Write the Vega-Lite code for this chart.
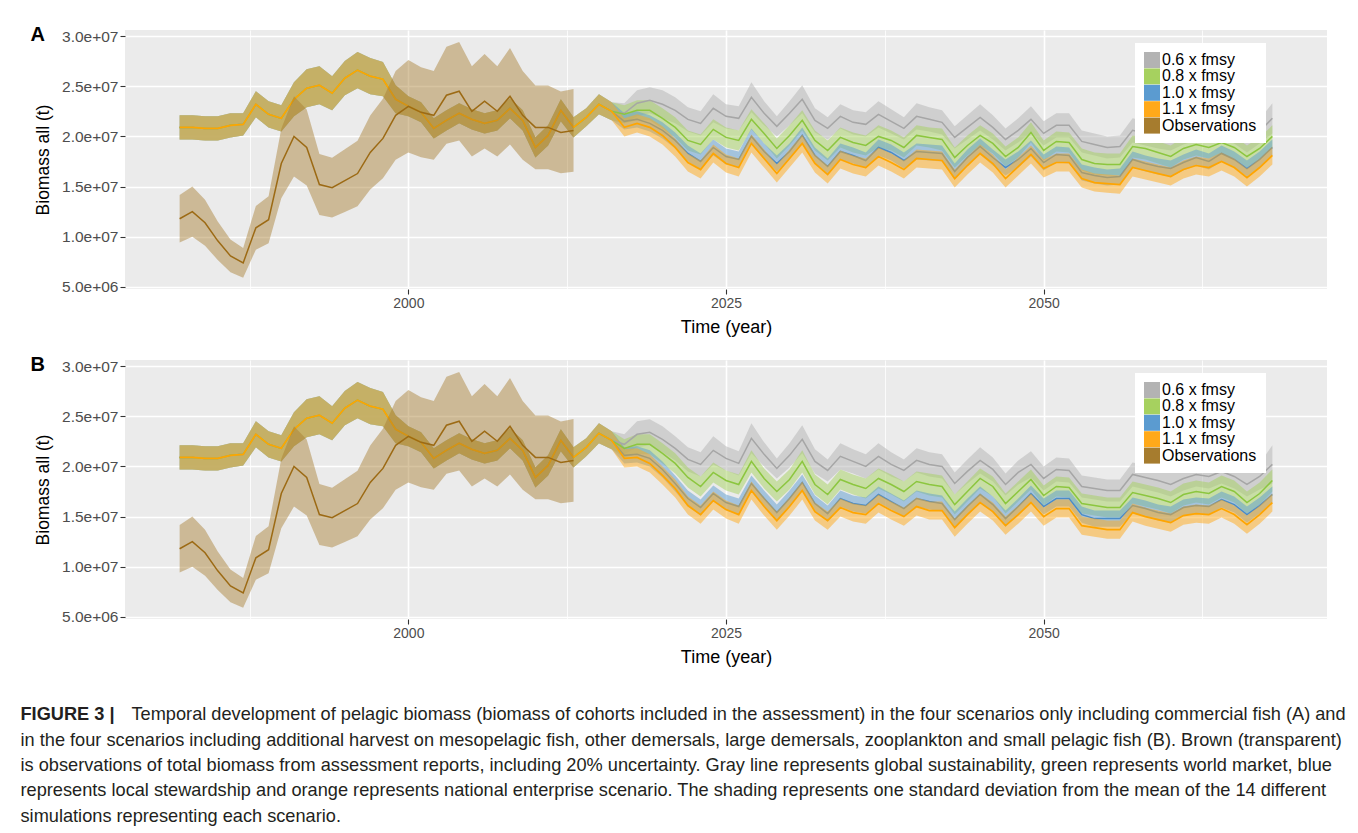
{
"$schema":"https://vega.github.io/schema/vega-lite/v6.json",
"background":"white",
"padding":{"left":20,"top":25,"right":5,"bottom":5},
"bounds":"flush",
"spacing":71,
"resolve":{"scale":{"color":"independent"},"legend":{"color":"independent"}},
"config":{
 "view":{"fill":"#EBEBEB","stroke":null},
 "font":"Liberation Sans",
 "axis":{"labelFont":"Liberation Sans","labelFontSize":15.5,"labelColor":"#4D4D4D","tickColor":"#333333","tickSize":5,"tickWidth":1.1,"domain":false,"gridColor":"#FFFFFF","titleFont":"Liberation Sans","titleFontWeight":"normal","titleColor":"#000000","labelPadding":2},
 "axisX":{"titleFontSize":18,"titlePadding":8,"labelFontSize":14},
 "axisY":{"titleFontSize":17.5,"titlePadding":9}
},
"datasets":{
"model":[
{"p":"A","t":1982,"g":2.09e7,"n":2.09e7,"b":2.09e7,"o":2.09e7,"gs":1.2e6,"ns":1.2e6,"bs":1.2e6,"os":1.2e6},
{"p":"A","t":1983,"g":2.09e7,"n":2.09e7,"b":2.09e7,"o":2.09e7,"gs":1.2e6,"ns":1.2e6,"bs":1.2e6,"os":1.2e6},
{"p":"A","t":1984,"g":2.08e7,"n":2.08e7,"b":2.08e7,"o":2.08e7,"gs":1.2e6,"ns":1.2e6,"bs":1.2e6,"os":1.2e6},
{"p":"A","t":1985,"g":2.08e7,"n":2.08e7,"b":2.08e7,"o":2.08e7,"gs":1.2e6,"ns":1.2e6,"bs":1.2e6,"os":1.2e6},
{"p":"A","t":1986,"g":2.11e7,"n":2.11e7,"b":2.11e7,"o":2.11e7,"gs":1.2e6,"ns":1.2e6,"bs":1.2e6,"os":1.2e6},
{"p":"A","t":1987,"g":2.12e7,"n":2.12e7,"b":2.12e7,"o":2.12e7,"gs":1.1e6,"ns":1.1e6,"bs":1.1e6,"os":1.1e6},
{"p":"A","t":1988,"g":2.32e7,"n":2.32e7,"b":2.32e7,"o":2.32e7,"gs":1.3e6,"ns":1.3e6,"bs":1.3e6,"os":1.3e6},
{"p":"A","t":1989,"g":2.22e7,"n":2.22e7,"b":2.22e7,"o":2.22e7,"gs":1.3e6,"ns":1.3e6,"bs":1.3e6,"os":1.3e6},
{"p":"A","t":1990,"g":2.18e7,"n":2.18e7,"b":2.18e7,"o":2.18e7,"gs":1.3e6,"ns":1.3e6,"bs":1.3e6,"os":1.3e6},
{"p":"A","t":1991,"g":2.37e7,"n":2.37e7,"b":2.37e7,"o":2.37e7,"gs":1.7e6,"ns":1.7e6,"bs":1.7e6,"os":1.7e6},
{"p":"A","t":1992,"g":2.48e7,"n":2.48e7,"b":2.48e7,"o":2.48e7,"gs":1.9e6,"ns":1.9e6,"bs":1.9e6,"os":1.9e6},
{"p":"A","t":1993,"g":2.51e7,"n":2.51e7,"b":2.51e7,"o":2.51e7,"gs":1.9e6,"ns":1.9e6,"bs":1.9e6,"os":1.9e6},
{"p":"A","t":1994,"g":2.43e7,"n":2.43e7,"b":2.43e7,"o":2.43e7,"gs":1.7e6,"ns":1.7e6,"bs":1.7e6,"os":1.7e6},
{"p":"A","t":1995,"g":2.58e7,"n":2.58e7,"b":2.58e7,"o":2.58e7,"gs":1.7e6,"ns":1.7e6,"bs":1.7e6,"os":1.7e6},
{"p":"A","t":1996,"g":2.66e7,"n":2.66e7,"b":2.66e7,"o":2.66e7,"gs":1.8e6,"ns":1.8e6,"bs":1.8e6,"os":1.8e6},
{"p":"A","t":1997,"g":2.60e7,"n":2.60e7,"b":2.60e7,"o":2.60e7,"gs":1.8e6,"ns":1.8e6,"bs":1.8e6,"os":1.8e6},
{"p":"A","t":1998,"g":2.57e7,"n":2.57e7,"b":2.57e7,"o":2.57e7,"gs":1.7e6,"ns":1.7e6,"bs":1.7e6,"os":1.7e6},
{"p":"A","t":1999,"g":2.37e7,"n":2.37e7,"b":2.37e7,"o":2.37e7,"gs":1.4e6,"ns":1.4e6,"bs":1.4e6,"os":1.4e6},
{"p":"A","t":2000,"g":2.30e7,"n":2.30e7,"b":2.30e7,"o":2.30e7,"gs":1.0e6,"ns":1.0e6,"bs":1.0e6,"os":1.0e6},
{"p":"A","t":2001,"g":2.24e7,"n":2.24e7,"b":2.24e7,"o":2.24e7,"gs":1.0e6,"ns":1.0e6,"bs":1.0e6,"os":1.0e6},
{"p":"A","t":2002,"g":2.08e7,"n":2.08e7,"b":2.08e7,"o":2.08e7,"gs":1.0e6,"ns":1.0e6,"bs":1.0e6,"os":1.0e6},
{"p":"A","t":2003,"g":2.16e7,"n":2.16e7,"b":2.16e7,"o":2.16e7,"gs":1.0e6,"ns":1.0e6,"bs":1.0e6,"os":1.0e6},
{"p":"A","t":2004,"g":2.23e7,"n":2.23e7,"b":2.23e7,"o":2.23e7,"gs":1.0e6,"ns":1.0e6,"bs":1.0e6,"os":1.0e6},
{"p":"A","t":2005,"g":2.17e7,"n":2.17e7,"b":2.17e7,"o":2.17e7,"gs":1.0e6,"ns":1.0e6,"bs":1.0e6,"os":1.0e6},
{"p":"A","t":2006,"g":2.13e7,"n":2.13e7,"b":2.13e7,"o":2.13e7,"gs":1.0e6,"ns":1.0e6,"bs":1.0e6,"os":1.0e6},
{"p":"A","t":2007,"g":2.16e7,"n":2.16e7,"b":2.16e7,"o":2.16e7,"gs":1.0e6,"ns":1.0e6,"bs":1.0e6,"os":1.0e6},
{"p":"A","t":2008,"g":2.28e7,"n":2.28e7,"b":2.28e7,"o":2.28e7,"gs":1.0e6,"ns":1.0e6,"bs":1.0e6,"os":1.0e6},
{"p":"A","t":2009,"g":2.16e7,"n":2.16e7,"b":2.16e7,"o":2.16e7,"gs":1.0e6,"ns":1.0e6,"bs":1.0e6,"os":1.0e6},
{"p":"A","t":2010,"g":1.89e7,"n":1.89e7,"b":1.89e7,"o":1.89e7,"gs":1.0e6,"ns":1.0e6,"bs":1.0e6,"os":1.0e6},
{"p":"A","t":2011,"g":2.01e7,"n":2.01e7,"b":2.01e7,"o":2.01e7,"gs":1.0e6,"ns":1.0e6,"bs":1.0e6,"os":1.0e6},
{"p":"A","t":2012,"g":2.26e7,"n":2.26e7,"b":2.26e7,"o":2.26e7,"gs":1.1e6,"ns":1.1e6,"bs":1.1e6,"os":1.1e6},
{"p":"A","t":2013,"g":2.09e7,"n":2.09e7,"b":2.09e7,"o":2.09e7,"gs":1.0e6,"ns":1.0e6,"bs":1.0e6,"os":1.0e6},
{"p":"A","t":2014,"g":2.19e7,"n":2.19e7,"b":2.19e7,"o":2.19e7,"gs":9e5,"ns":9e5,"bs":9e5,"os":9e5},
{"p":"A","t":2015,"g":2.32e7,"n":2.32e7,"b":2.32e7,"o":2.32e7,"gs":1.0e6,"ns":1.0e6,"bs":1.0e6,"os":1.0e6},
{"p":"A","t":2016,"g":2.25e7,"n":2.25e7,"b":2.25e7,"o":2.25e7,"gs":9e5,"ns":9e5,"bs":9e5,"os":9e5},
{"p":"A","t":2017,"g":2.23e7,"n":2.22e7,"b":2.15e7,"o":2.09e7,"gs":1.0e6,"ns":9e5,"bs":8e5,"os":9e5},
{"p":"A","t":2018,"g":2.33e7,"n":2.26e7,"b":2.17e7,"o":2.13e7,"gs":1.3e6,"ns":1.0e6,"bs":8e5,"os":9e5},
{"p":"A","t":2019,"g":2.36e7,"n":2.26e7,"b":2.13e7,"o":2.09e7,"gs":1.3e6,"ns":1.0e6,"bs":8e5,"os":9e5},
{"p":"A","t":2020,"g":2.32e7,"n":2.18e7,"b":2.06e7,"o":2.01e7,"gs":1.4e6,"ns":1.0e6,"bs":8e5,"os":9e5},
{"p":"A","t":2021,"g":2.26e7,"n":2.09e7,"b":1.96e7,"o":1.89e7,"gs":1.3e6,"ns":1.0e6,"bs":8e5,"os":9e5},
{"p":"A","t":2022,"g":2.17e7,"n":1.96e7,"b":1.83e7,"o":1.74e7,"gs":1.2e6,"ns":1.0e6,"bs":8e5,"os":9e5},
{"p":"A","t":2023,"g":2.13e7,"n":1.92e7,"b":1.75e7,"o":1.67e7,"gs":1.2e6,"ns":1.0e6,"bs":8e5,"os":9e5},
{"p":"A","t":2024,"g":2.28e7,"n":2.07e7,"b":1.89e7,"o":1.83e7,"gs":1.4e6,"ns":1.0e6,"bs":8e5,"os":9e5},
{"p":"A","t":2025,"g":2.20e7,"n":1.99e7,"b":1.80e7,"o":1.73e7,"gs":1.2e6,"ns":1.0e6,"bs":8e5,"os":9e5},
{"p":"A","t":2026,"g":2.18e7,"n":1.96e7,"b":1.77e7,"o":1.69e7,"gs":1.2e6,"ns":1.0e6,"bs":8e5,"os":9e5},
{"p":"A","t":2027,"g":2.39e7,"n":2.17e7,"b":2.00e7,"o":1.93e7,"gs":1.5e6,"ns":1.0e6,"bs":8e5,"os":9e5},
{"p":"A","t":2028,"g":2.23e7,"n":2.03e7,"b":1.85e7,"o":1.78e7,"gs":1.2e6,"ns":1.0e6,"bs":8e5,"os":9e5},
{"p":"A","t":2029,"g":2.10e7,"n":1.88e7,"b":1.73e7,"o":1.63e7,"gs":1.0e6,"ns":1.0e6,"bs":8e5,"os":9e5},
{"p":"A","t":2030,"g":2.23e7,"n":2.01e7,"b":1.85e7,"o":1.78e7,"gs":1.2e6,"ns":1.0e6,"bs":8e5,"os":9e5},
{"p":"A","t":2031,"g":2.37e7,"n":2.16e7,"b":2.01e7,"o":1.93e7,"gs":1.4e6,"ns":1.0e6,"bs":8e5,"os":9e5},
{"p":"A","t":2032,"g":2.16e7,"n":1.96e7,"b":1.81e7,"o":1.73e7,"gs":1.2e6,"ns":1.0e6,"bs":8e5,"os":9e5},
{"p":"A","t":2033,"g":2.08e7,"n":1.86e7,"b":1.70e7,"o":1.62e7,"gs":1.1e6,"ns":1.0e6,"bs":8e5,"os":9e5},
{"p":"A","t":2034,"g":2.20e7,"n":1.99e7,"b":1.85e7,"o":1.77e7,"gs":1.2e6,"ns":1.0e6,"bs":8e5,"os":9e5},
{"p":"A","t":2035,"g":2.14e7,"n":1.94e7,"b":1.81e7,"o":1.72e7,"gs":1.2e6,"ns":1.0e6,"bs":8e5,"os":9e5},
{"p":"A","t":2036,"g":2.12e7,"n":1.91e7,"b":1.76e7,"o":1.69e7,"gs":1.2e6,"ns":1.0e6,"bs":8e5,"os":9e5},
{"p":"A","t":2037,"g":2.22e7,"n":2.00e7,"b":1.89e7,"o":1.80e7,"gs":1.3e6,"ns":1.1e6,"bs":8e5,"os":9e5},
{"p":"A","t":2038,"g":2.15e7,"n":1.96e7,"b":1.84e7,"o":1.74e7,"gs":1.2e6,"ns":1.0e6,"bs":8e5,"os":9e5},
{"p":"A","t":2039,"g":2.08e7,"n":1.89e7,"b":1.76e7,"o":1.67e7,"gs":1.1e6,"ns":1.0e6,"bs":8e5,"os":9e5},
{"p":"A","t":2040,"g":2.20e7,"n":2.01e7,"b":1.85e7,"o":1.78e7,"gs":1.3e6,"ns":1.0e6,"bs":8e5,"os":9e5},
{"p":"A","t":2041,"g":2.17e7,"n":1.99e7,"b":1.84e7,"o":1.77e7,"gs":1.2e6,"ns":1.0e6,"bs":8e5,"os":9e5},
{"p":"A","t":2042,"g":2.14e7,"n":1.97e7,"b":1.83e7,"o":1.76e7,"gs":1.2e6,"ns":1.1e6,"bs":8e5,"os":9e5},
{"p":"A","t":2043,"g":1.99e7,"n":1.79e7,"b":1.65e7,"o":1.58e7,"gs":1.1e6,"ns":1.0e6,"bs":8e5,"os":9e5},
{"p":"A","t":2044,"g":2.09e7,"n":1.91e7,"b":1.79e7,"o":1.71e7,"gs":1.2e6,"ns":1.0e6,"bs":8e5,"os":9e5},
{"p":"A","t":2045,"g":2.19e7,"n":2.01e7,"b":1.90e7,"o":1.83e7,"gs":1.3e6,"ns":1.0e6,"bs":8e5,"os":9e5},
{"p":"A","t":2046,"g":2.09e7,"n":1.93e7,"b":1.79e7,"o":1.73e7,"gs":1.2e6,"ns":1.0e6,"bs":8e5,"os":9e5},
{"p":"A","t":2047,"g":1.97e7,"n":1.80e7,"b":1.69e7,"o":1.58e7,"gs":1.1e6,"ns":1.0e6,"bs":8e5,"os":9e5},
{"p":"A","t":2048,"g":2.06e7,"n":1.89e7,"b":1.77e7,"o":1.70e7,"gs":1.2e6,"ns":1.0e6,"bs":8e5,"os":9e5},
{"p":"A","t":2049,"g":2.17e7,"n":2.04e7,"b":1.88e7,"o":1.82e7,"gs":1.3e6,"ns":1.0e6,"bs":8e5,"os":9e5},
{"p":"A","t":2050,"g":2.03e7,"n":1.86e7,"b":1.74e7,"o":1.68e7,"gs":1.2e6,"ns":1.0e6,"bs":8e5,"os":9e5},
{"p":"A","t":2051,"g":2.11e7,"n":1.95e7,"b":1.82e7,"o":1.74e7,"gs":1.2e6,"ns":1.0e6,"bs":8e5,"os":9e5},
{"p":"A","t":2052,"g":2.11e7,"n":1.94e7,"b":1.81e7,"o":1.74e7,"gs":1.2e6,"ns":1.0e6,"bs":8e5,"os":9e5},
{"p":"A","t":2053,"g":1.95e7,"n":1.77e7,"b":1.64e7,"o":1.58e7,"gs":1.1e6,"ns":1.1e6,"bs":8e5,"os":9e5},
{"p":"A","t":2054,"g":1.92e7,"n":1.73e7,"b":1.61e7,"o":1.54e7,"gs":1.1e6,"ns":1.1e6,"bs":8e5,"os":9e5},
{"p":"A","t":2055,"g":1.89e7,"n":1.72e7,"b":1.59e7,"o":1.53e7,"gs":1.1e6,"ns":1.1e6,"bs":8e5,"os":9e5},
{"p":"A","t":2056,"g":1.90e7,"n":1.72e7,"b":1.60e7,"o":1.52e7,"gs":1.1e6,"ns":1.1e6,"bs":8e5,"os":9e5},
{"p":"A","t":2057,"g":2.06e7,"n":1.90e7,"b":1.77e7,"o":1.69e7,"gs":1.2e6,"ns":1.1e6,"bs":8e5,"os":9e5},
{"p":"A","t":2058,"g":2.03e7,"n":1.88e7,"b":1.73e7,"o":1.66e7,"gs":1.2e6,"ns":1.1e6,"bs":8e5,"os":9e5},
{"p":"A","t":2059,"g":2.00e7,"n":1.84e7,"b":1.70e7,"o":1.63e7,"gs":1.2e6,"ns":1.1e6,"bs":8e5,"os":9e5},
{"p":"A","t":2060,"g":1.98e7,"n":1.80e7,"b":1.68e7,"o":1.60e7,"gs":1.2e6,"ns":1.1e6,"bs":8e5,"os":9e5},
{"p":"A","t":2061,"g":2.04e7,"n":1.88e7,"b":1.74e7,"o":1.67e7,"gs":1.2e6,"ns":1.1e6,"bs":8e5,"os":9e5},
{"p":"A","t":2062,"g":2.08e7,"n":1.92e7,"b":1.79e7,"o":1.71e7,"gs":1.2e6,"ns":1.1e6,"bs":8e5,"os":9e5},
{"p":"A","t":2063,"g":2.06e7,"n":1.89e7,"b":1.75e7,"o":1.69e7,"gs":1.2e6,"ns":1.1e6,"bs":8e5,"os":9e5},
{"p":"A","t":2064,"g":2.10e7,"n":1.94e7,"b":1.83e7,"o":1.75e7,"gs":1.2e6,"ns":1.1e6,"bs":8e5,"os":9e5},
{"p":"A","t":2065,"g":2.05e7,"n":1.89e7,"b":1.77e7,"o":1.69e7,"gs":1.2e6,"ns":1.1e6,"bs":8e5,"os":9e5},
{"p":"A","t":2066,"g":1.96e7,"n":1.80e7,"b":1.68e7,"o":1.59e7,"gs":1.2e6,"ns":1.1e6,"bs":8e5,"os":9e5},
{"p":"A","t":2067,"g":2.05e7,"n":1.88e7,"b":1.77e7,"o":1.69e7,"gs":1.2e6,"ns":1.1e6,"bs":8e5,"os":9e5},
{"p":"A","t":2068,"g":2.18e7,"n":2.00e7,"b":1.89e7,"o":1.81e7,"gs":1.5e6,"ns":1.1e6,"bs":8e5,"os":9e5},
{"p":"B","t":1982,"g":2.09e7,"n":2.09e7,"b":2.09e7,"o":2.09e7,"gs":1.2e6,"ns":1.2e6,"bs":1.2e6,"os":1.2e6},
{"p":"B","t":1983,"g":2.09e7,"n":2.09e7,"b":2.09e7,"o":2.09e7,"gs":1.2e6,"ns":1.2e6,"bs":1.2e6,"os":1.2e6},
{"p":"B","t":1984,"g":2.08e7,"n":2.08e7,"b":2.08e7,"o":2.08e7,"gs":1.2e6,"ns":1.2e6,"bs":1.2e6,"os":1.2e6},
{"p":"B","t":1985,"g":2.08e7,"n":2.08e7,"b":2.08e7,"o":2.08e7,"gs":1.2e6,"ns":1.2e6,"bs":1.2e6,"os":1.2e6},
{"p":"B","t":1986,"g":2.11e7,"n":2.11e7,"b":2.11e7,"o":2.11e7,"gs":1.2e6,"ns":1.2e6,"bs":1.2e6,"os":1.2e6},
{"p":"B","t":1987,"g":2.12e7,"n":2.12e7,"b":2.12e7,"o":2.12e7,"gs":1.1e6,"ns":1.1e6,"bs":1.1e6,"os":1.1e6},
{"p":"B","t":1988,"g":2.32e7,"n":2.32e7,"b":2.32e7,"o":2.32e7,"gs":1.3e6,"ns":1.3e6,"bs":1.3e6,"os":1.3e6},
{"p":"B","t":1989,"g":2.22e7,"n":2.22e7,"b":2.22e7,"o":2.22e7,"gs":1.3e6,"ns":1.3e6,"bs":1.3e6,"os":1.3e6},
{"p":"B","t":1990,"g":2.18e7,"n":2.18e7,"b":2.18e7,"o":2.18e7,"gs":1.3e6,"ns":1.3e6,"bs":1.3e6,"os":1.3e6},
{"p":"B","t":1991,"g":2.37e7,"n":2.37e7,"b":2.37e7,"o":2.37e7,"gs":1.7e6,"ns":1.7e6,"bs":1.7e6,"os":1.7e6},
{"p":"B","t":1992,"g":2.48e7,"n":2.48e7,"b":2.48e7,"o":2.48e7,"gs":1.9e6,"ns":1.9e6,"bs":1.9e6,"os":1.9e6},
{"p":"B","t":1993,"g":2.51e7,"n":2.51e7,"b":2.51e7,"o":2.51e7,"gs":1.9e6,"ns":1.9e6,"bs":1.9e6,"os":1.9e6},
{"p":"B","t":1994,"g":2.43e7,"n":2.43e7,"b":2.43e7,"o":2.43e7,"gs":1.7e6,"ns":1.7e6,"bs":1.7e6,"os":1.7e6},
{"p":"B","t":1995,"g":2.58e7,"n":2.58e7,"b":2.58e7,"o":2.58e7,"gs":1.7e6,"ns":1.7e6,"bs":1.7e6,"os":1.7e6},
{"p":"B","t":1996,"g":2.66e7,"n":2.66e7,"b":2.66e7,"o":2.66e7,"gs":1.8e6,"ns":1.8e6,"bs":1.8e6,"os":1.8e6},
{"p":"B","t":1997,"g":2.60e7,"n":2.60e7,"b":2.60e7,"o":2.60e7,"gs":1.8e6,"ns":1.8e6,"bs":1.8e6,"os":1.8e6},
{"p":"B","t":1998,"g":2.57e7,"n":2.57e7,"b":2.57e7,"o":2.57e7,"gs":1.7e6,"ns":1.7e6,"bs":1.7e6,"os":1.7e6},
{"p":"B","t":1999,"g":2.37e7,"n":2.37e7,"b":2.37e7,"o":2.37e7,"gs":1.4e6,"ns":1.4e6,"bs":1.4e6,"os":1.4e6},
{"p":"B","t":2000,"g":2.30e7,"n":2.30e7,"b":2.30e7,"o":2.30e7,"gs":1.0e6,"ns":1.0e6,"bs":1.0e6,"os":1.0e6},
{"p":"B","t":2001,"g":2.24e7,"n":2.24e7,"b":2.24e7,"o":2.24e7,"gs":1.0e6,"ns":1.0e6,"bs":1.0e6,"os":1.0e6},
{"p":"B","t":2002,"g":2.08e7,"n":2.08e7,"b":2.08e7,"o":2.08e7,"gs":1.0e6,"ns":1.0e6,"bs":1.0e6,"os":1.0e6},
{"p":"B","t":2003,"g":2.16e7,"n":2.16e7,"b":2.16e7,"o":2.16e7,"gs":1.0e6,"ns":1.0e6,"bs":1.0e6,"os":1.0e6},
{"p":"B","t":2004,"g":2.23e7,"n":2.23e7,"b":2.23e7,"o":2.23e7,"gs":1.0e6,"ns":1.0e6,"bs":1.0e6,"os":1.0e6},
{"p":"B","t":2005,"g":2.17e7,"n":2.17e7,"b":2.17e7,"o":2.17e7,"gs":1.0e6,"ns":1.0e6,"bs":1.0e6,"os":1.0e6},
{"p":"B","t":2006,"g":2.13e7,"n":2.13e7,"b":2.13e7,"o":2.13e7,"gs":1.0e6,"ns":1.0e6,"bs":1.0e6,"os":1.0e6},
{"p":"B","t":2007,"g":2.16e7,"n":2.16e7,"b":2.16e7,"o":2.16e7,"gs":1.0e6,"ns":1.0e6,"bs":1.0e6,"os":1.0e6},
{"p":"B","t":2008,"g":2.28e7,"n":2.28e7,"b":2.28e7,"o":2.28e7,"gs":1.0e6,"ns":1.0e6,"bs":1.0e6,"os":1.0e6},
{"p":"B","t":2009,"g":2.16e7,"n":2.16e7,"b":2.16e7,"o":2.16e7,"gs":1.0e6,"ns":1.0e6,"bs":1.0e6,"os":1.0e6},
{"p":"B","t":2010,"g":1.89e7,"n":1.89e7,"b":1.89e7,"o":1.89e7,"gs":1.0e6,"ns":1.0e6,"bs":1.0e6,"os":1.0e6},
{"p":"B","t":2011,"g":2.01e7,"n":2.01e7,"b":2.01e7,"o":2.01e7,"gs":1.0e6,"ns":1.0e6,"bs":1.0e6,"os":1.0e6},
{"p":"B","t":2012,"g":2.26e7,"n":2.26e7,"b":2.26e7,"o":2.26e7,"gs":1.1e6,"ns":1.1e6,"bs":1.1e6,"os":1.1e6},
{"p":"B","t":2013,"g":2.09e7,"n":2.09e7,"b":2.09e7,"o":2.09e7,"gs":1.0e6,"ns":1.0e6,"bs":1.0e6,"os":1.0e6},
{"p":"B","t":2014,"g":2.19e7,"n":2.19e7,"b":2.19e7,"o":2.19e7,"gs":9e5,"ns":9e5,"bs":9e5,"os":9e5},
{"p":"B","t":2015,"g":2.33e7,"n":2.33e7,"b":2.33e7,"o":2.33e7,"gs":1.0e6,"ns":1.0e6,"bs":1.0e6,"os":1.0e6},
{"p":"B","t":2016,"g":2.26e7,"n":2.26e7,"b":2.26e7,"o":2.26e7,"gs":9e5,"ns":9e5,"bs":9e5,"os":9e5},
{"p":"B","t":2017,"g":2.22e7,"n":2.18e7,"b":2.11e7,"o":2.08e7,"gs":1.0e6,"ns":9e5,"bs":8e5,"os":9e5},
{"p":"B","t":2018,"g":2.32e7,"n":2.22e7,"b":2.12e7,"o":2.09e7,"gs":1.3e6,"ns":1.0e6,"bs":8e5,"os":9e5},
{"p":"B","t":2019,"g":2.34e7,"n":2.22e7,"b":2.08e7,"o":2.03e7,"gs":1.3e6,"ns":1.0e6,"bs":8e5,"os":9e5},
{"p":"B","t":2020,"g":2.27e7,"n":2.13e7,"b":1.97e7,"o":1.91e7,"gs":1.3e6,"ns":1.0e6,"bs":8e5,"os":9e5},
{"p":"B","t":2021,"g":2.18e7,"n":2.03e7,"b":1.83e7,"o":1.78e7,"gs":1.2e6,"ns":1.0e6,"bs":8e5,"os":9e5},
{"p":"B","t":2022,"g":2.07e7,"n":1.89e7,"b":1.68e7,"o":1.61e7,"gs":1.2e6,"ns":1.0e6,"bs":8e5,"os":9e5},
{"p":"B","t":2023,"g":2.02e7,"n":1.80e7,"b":1.59e7,"o":1.52e7,"gs":1.2e6,"ns":1.0e6,"bs":8e5,"os":9e5},
{"p":"B","t":2024,"g":2.16e7,"n":1.94e7,"b":1.73e7,"o":1.66e7,"gs":1.4e6,"ns":1.0e6,"bs":8e5,"os":9e5},
{"p":"B","t":2025,"g":2.08e7,"n":1.86e7,"b":1.64e7,"o":1.57e7,"gs":1.2e6,"ns":1.0e6,"bs":8e5,"os":9e5},
{"p":"B","t":2026,"g":2.03e7,"n":1.82e7,"b":1.60e7,"o":1.52e7,"gs":1.2e6,"ns":1.0e6,"bs":8e5,"os":9e5},
{"p":"B","t":2027,"g":2.28e7,"n":2.05e7,"b":1.83e7,"o":1.76e7,"gs":1.5e6,"ns":1.1e6,"bs":8e5,"os":9e5},
{"p":"B","t":2028,"g":2.12e7,"n":1.88e7,"b":1.68e7,"o":1.60e7,"gs":1.2e6,"ns":1.0e6,"bs":8e5,"os":9e5},
{"p":"B","t":2029,"g":1.98e7,"n":1.75e7,"b":1.54e7,"o":1.46e7,"gs":1.0e6,"ns":1.0e6,"bs":8e5,"os":9e5},
{"p":"B","t":2030,"g":2.11e7,"n":1.87e7,"b":1.68e7,"o":1.60e7,"gs":1.2e6,"ns":1.0e6,"bs":8e5,"os":9e5},
{"p":"B","t":2031,"g":2.27e7,"n":2.05e7,"b":1.84e7,"o":1.76e7,"gs":1.4e6,"ns":1.1e6,"bs":8e5,"os":9e5},
{"p":"B","t":2032,"g":2.05e7,"n":1.82e7,"b":1.63e7,"o":1.55e7,"gs":1.2e6,"ns":1.0e6,"bs":8e5,"os":9e5},
{"p":"B","t":2033,"g":1.96e7,"n":1.72e7,"b":1.53e7,"o":1.46e7,"gs":1.1e6,"ns":1.0e6,"bs":8e5,"os":9e5},
{"p":"B","t":2034,"g":2.10e7,"n":1.87e7,"b":1.68e7,"o":1.59e7,"gs":1.3e6,"ns":1.0e6,"bs":8e5,"os":9e5},
{"p":"B","t":2035,"g":2.05e7,"n":1.82e7,"b":1.63e7,"o":1.54e7,"gs":1.2e6,"ns":1.0e6,"bs":8e5,"os":9e5},
{"p":"B","t":2036,"g":2.00e7,"n":1.78e7,"b":1.61e7,"o":1.52e7,"gs":1.2e6,"ns":1.0e6,"bs":8e5,"os":9e5},
{"p":"B","t":2037,"g":2.10e7,"n":1.88e7,"b":1.72e7,"o":1.63e7,"gs":1.3e6,"ns":1.0e6,"bs":8e5,"os":9e5},
{"p":"B","t":2038,"g":2.02e7,"n":1.82e7,"b":1.65e7,"o":1.56e7,"gs":1.2e6,"ns":1.0e6,"bs":8e5,"os":9e5},
{"p":"B","t":2039,"g":1.96e7,"n":1.75e7,"b":1.58e7,"o":1.50e7,"gs":1.1e6,"ns":1.0e6,"bs":8e5,"os":9e5},
{"p":"B","t":2040,"g":2.06e7,"n":1.85e7,"b":1.68e7,"o":1.60e7,"gs":1.2e6,"ns":1.0e6,"bs":8e5,"os":9e5},
{"p":"B","t":2041,"g":2.02e7,"n":1.82e7,"b":1.65e7,"o":1.56e7,"gs":1.2e6,"ns":1.1e6,"bs":8e5,"os":9e5},
{"p":"B","t":2042,"g":2.00e7,"n":1.80e7,"b":1.63e7,"o":1.56e7,"gs":1.2e6,"ns":1.1e6,"bs":8e5,"os":9e5},
{"p":"B","t":2043,"g":1.83e7,"n":1.62e7,"b":1.47e7,"o":1.39e7,"gs":1.1e6,"ns":1.0e6,"bs":8e5,"os":9e5},
{"p":"B","t":2044,"g":1.95e7,"n":1.75e7,"b":1.60e7,"o":1.52e7,"gs":1.2e6,"ns":1.0e6,"bs":8e5,"os":9e5},
{"p":"B","t":2045,"g":2.06e7,"n":1.88e7,"b":1.72e7,"o":1.64e7,"gs":1.3e6,"ns":1.0e6,"bs":8e5,"os":9e5},
{"p":"B","t":2046,"g":1.97e7,"n":1.80e7,"b":1.62e7,"o":1.55e7,"gs":1.2e6,"ns":1.0e6,"bs":8e5,"os":9e5},
{"p":"B","t":2047,"g":1.82e7,"n":1.63e7,"b":1.48e7,"o":1.41e7,"gs":1.1e6,"ns":1.0e6,"bs":8e5,"os":9e5},
{"p":"B","t":2048,"g":1.94e7,"n":1.75e7,"b":1.60e7,"o":1.52e7,"gs":1.2e6,"ns":1.0e6,"bs":8e5,"os":9e5},
{"p":"B","t":2049,"g":2.02e7,"n":1.87e7,"b":1.73e7,"o":1.64e7,"gs":1.3e6,"ns":1.0e6,"bs":8e5,"os":9e5},
{"p":"B","t":2050,"g":1.88e7,"n":1.71e7,"b":1.60e7,"o":1.50e7,"gs":1.2e6,"ns":1.0e6,"bs":8e5,"os":9e5},
{"p":"B","t":2051,"g":1.97e7,"n":1.80e7,"b":1.68e7,"o":1.58e7,"gs":1.2e6,"ns":1.0e6,"bs":8e5,"os":9e5},
{"p":"B","t":2052,"g":1.96e7,"n":1.79e7,"b":1.68e7,"o":1.58e7,"gs":1.2e6,"ns":1.0e6,"bs":8e5,"os":9e5},
{"p":"B","t":2053,"g":1.80e7,"n":1.63e7,"b":1.52e7,"o":1.41e7,"gs":1.1e6,"ns":1.0e6,"bs":8e5,"os":9e5},
{"p":"B","t":2054,"g":1.78e7,"n":1.61e7,"b":1.48e7,"o":1.39e7,"gs":1.1e6,"ns":1.0e6,"bs":8e5,"os":9e5},
{"p":"B","t":2055,"g":1.76e7,"n":1.59e7,"b":1.48e7,"o":1.37e7,"gs":1.1e6,"ns":1.0e6,"bs":8e5,"os":9e5},
{"p":"B","t":2056,"g":1.76e7,"n":1.59e7,"b":1.48e7,"o":1.37e7,"gs":1.1e6,"ns":1.0e6,"bs":8e5,"os":9e5},
{"p":"B","t":2057,"g":1.92e7,"n":1.74e7,"b":1.61e7,"o":1.54e7,"gs":1.2e6,"ns":1.1e6,"bs":8e5,"os":9e5},
{"p":"B","t":2058,"g":1.89e7,"n":1.71e7,"b":1.58e7,"o":1.50e7,"gs":1.2e6,"ns":1.1e6,"bs":8e5,"os":9e5},
{"p":"B","t":2059,"g":1.86e7,"n":1.68e7,"b":1.54e7,"o":1.47e7,"gs":1.2e6,"ns":1.1e6,"bs":8e5,"os":9e5},
{"p":"B","t":2060,"g":1.82e7,"n":1.64e7,"b":1.52e7,"o":1.44e7,"gs":1.2e6,"ns":1.1e6,"bs":8e5,"os":9e5},
{"p":"B","t":2061,"g":1.88e7,"n":1.72e7,"b":1.59e7,"o":1.51e7,"gs":1.2e6,"ns":1.1e6,"bs":8e5,"os":9e5},
{"p":"B","t":2062,"g":1.92e7,"n":1.75e7,"b":1.61e7,"o":1.53e7,"gs":1.2e6,"ns":1.1e6,"bs":8e5,"os":9e5},
{"p":"B","t":2063,"g":1.90e7,"n":1.73e7,"b":1.60e7,"o":1.52e7,"gs":1.2e6,"ns":1.1e6,"bs":8e5,"os":9e5},
{"p":"B","t":2064,"g":1.95e7,"n":1.80e7,"b":1.67e7,"o":1.58e7,"gs":1.2e6,"ns":1.1e6,"bs":8e5,"os":9e5},
{"p":"B","t":2065,"g":1.90e7,"n":1.75e7,"b":1.62e7,"o":1.52e7,"gs":1.2e6,"ns":1.1e6,"bs":8e5,"os":9e5},
{"p":"B","t":2066,"g":1.82e7,"n":1.64e7,"b":1.52e7,"o":1.42e7,"gs":1.2e6,"ns":1.1e6,"bs":8e5,"os":9e5},
{"p":"B","t":2067,"g":1.90e7,"n":1.73e7,"b":1.61e7,"o":1.52e7,"gs":1.3e6,"ns":1.1e6,"bs":8e5,"os":9e5},
{"p":"B","t":2068,"g":2.02e7,"n":1.86e7,"b":1.72e7,"o":1.64e7,"gs":1.9e6,"ns":1.1e6,"bs":8e5,"os":9e5}
],
"obs":[
{"t":1982,"m":1.18e7,"sd":2.36e6},{"t":1983,"m":1.25e7,"sd":2.5e6},{"t":1984,"m":1.14e7,"sd":2.28e6},{"t":1985,"m":9.6e6,"sd":1.92e6},
{"t":1986,"m":8.1e6,"sd":1.62e6},{"t":1987,"m":7.4e6,"sd":1.48e6},{"t":1988,"m":1.09e7,"sd":2.18e6},{"t":1989,"m":1.17e7,"sd":2.34e6},
{"t":1990,"m":1.73e7,"sd":3.46e6},{"t":1991,"m":2.0e7,"sd":4.0e6},{"t":1992,"m":1.89e7,"sd":3.78e6},{"t":1993,"m":1.52e7,"sd":3.04e6},
{"t":1994,"m":1.49e7,"sd":2.98e6},{"t":1995,"m":1.56e7,"sd":3.12e6},{"t":1996,"m":1.63e7,"sd":3.26e6},{"t":1997,"m":1.84e7,"sd":3.68e6},
{"t":1998,"m":1.98e7,"sd":3.96e6},{"t":1999,"m":2.21e7,"sd":4.42e6},{"t":2000,"m":2.30e7,"sd":4.6e6},{"t":2001,"m":2.24e7,"sd":4.48e6},
{"t":2002,"m":2.21e7,"sd":4.42e6},{"t":2003,"m":2.41e7,"sd":4.82e6},{"t":2004,"m":2.45e7,"sd":4.9e6},{"t":2005,"m":2.25e7,"sd":4.5e6},
{"t":2006,"m":2.35e7,"sd":4.7e6},{"t":2007,"m":2.25e7,"sd":4.5e6},{"t":2008,"m":2.40e7,"sd":4.8e6},{"t":2009,"m":2.21e7,"sd":4.42e6},
{"t":2010,"m":2.09e7,"sd":4.18e6},{"t":2011,"m":2.09e7,"sd":4.18e6},{"t":2012,"m":2.04e7,"sd":4.08e6},{"t":2013,"m":2.06e7,"sd":4.12e6}
],
"cap":[
{"line":1,"part":"h","text":"FIGURE 3 |"},
{"line":1,"part":"b1","text":"Temporal development of pelagic biomass (biomass of cohorts included in the assessment) in the four scenarios only including commercial fish (A) and"},
{"line":2,"part":"b","text":"in the four scenarios including additional harvest on mesopelagic fish, other demersals, large demersals, zooplankton and small pelagic fish (B). Brown (transparent)"},
{"line":3,"part":"b","text":"is observations of total biomass from assessment reports, including 20% uncertainty. Gray line represents global sustainability, green represents world market, blue"},
{"line":4,"part":"b","text":"represents local stewardship and orange represents national enterprise scenario. The shading represents one standard deviation from the mean of the 14 different"},
{"line":5,"part":"b","text":"simulations representing each scenario."}
]
},
"vconcat":[
{
 "width":1202,"height":259,
 "title":{"text":"A","anchor":"start","frame":"bounds","fontSize":20,"fontWeight":"bold","color":"#000000","offset":-16,"font":"Liberation Sans","dx":-4},
 "encoding":{"x":{"field":"t","type":"quantitative","title":"Time (year)","scale":{"domain":[1977.7,2072.3],"nice":false,"zero":false},"axis":{"values":[1987.5,2000,2012.5,2025,2037.5,2050,2062.5],"labelExpr":"datum.value % 25 == 0 ? format(datum.value, 'd') : ''","gridWidth":{"condition":{"test":"datum.value % 25 == 0","value":1.6},"value":0.8},"tickOpacity":{"condition":{"test":"datum.value % 25 == 0","value":1},"value":0}}}},
 "layer":[
  {"data":{"name":"model"},"transform":[{"filter":"datum.p == 'A'"}],"mark":{"type":"errorband","band":{"opacity":0.5}},"encoding":{"y":{"field":"g","type":"quantitative","title":"Biomass all (t)","scale":{"domain":[4800000,30600000],"nice":false,"zero":false},"axis":{"values":[5000000,7500000,10000000,12500000,15000000,17500000,20000000,22500000,25000000,27500000,30000000],"labelExpr":"datum.value % 5000000 == 0 ? replace(format(datum.value, '.1e'), 'e+', 'e+0') : ''","gridWidth":{"condition":{"test":"datum.value % 5000000 == 0","value":1.6},"value":0.8},"tickOpacity":{"condition":{"test":"datum.value % 5000000 == 0","value":1},"value":0}}},"yError":{"field":"gs"},"color":{"datum":"0.6 x fmsy","type":"nominal","scale":{"domain":["0.6 x fmsy","0.8 x fmsy","1.0 x fmsy","1.1 x fmsy","Observations"],"range":["#B3B3B3","#A6D15F","#5B9BD0","#FFA91A","#A67C2E"]},"legend":{"orient":"none","legendX":1010,"legendY":13,"title":null,"symbolType":"square","symbolSize":256,"symbolOpacity":1,"symbolStrokeWidth":0,"labelFontSize":16,"labelColor":"#000000","labelFont":"Liberation Sans","fillColor":"#FFFFFF","padding":9,"rowPadding":0.4,"labelOffset":2,"encode":{"symbols":{"update":{"opacity":{"value":1},"fillOpacity":{"value":1}}}}}}}},
  {"data":{"name":"model"},"transform":[{"filter":"datum.p == 'A'"}],"mark":{"type":"errorband","band":{"opacity":0.5}},"encoding":{"y":{"field":"n","type":"quantitative","title":"Biomass all (t)"},"yError":{"field":"ns"},"color":{"datum":"0.8 x fmsy","type":"nominal"}}},
  {"data":{"name":"model"},"transform":[{"filter":"datum.p == 'A'"}],"mark":{"type":"errorband","band":{"opacity":0.5}},"encoding":{"y":{"field":"b","type":"quantitative","title":"Biomass all (t)"},"yError":{"field":"bs"},"color":{"datum":"1.0 x fmsy","type":"nominal"}}},
  {"data":{"name":"model"},"transform":[{"filter":"datum.p == 'A'"}],"mark":{"type":"line","color":"#4A8CC8","strokeWidth":1.5},"encoding":{"y":{"field":"b","type":"quantitative","title":"Biomass all (t)"}}},
  {"data":{"name":"model"},"transform":[{"filter":"datum.p == 'A'"}],"mark":{"type":"errorband","band":{"opacity":0.5}},"encoding":{"y":{"field":"o","type":"quantitative","title":"Biomass all (t)"},"yError":{"field":"os"},"color":{"datum":"1.1 x fmsy","type":"nominal"}}},
  {"data":{"name":"model"},"transform":[{"filter":"datum.p == 'A'"}],"mark":{"type":"line","color":"#A6A6A6","strokeWidth":1.5},"encoding":{"y":{"field":"g","type":"quantitative","title":"Biomass all (t)"}}},
  {"data":{"name":"model"},"transform":[{"filter":"datum.p == 'A'"}],"mark":{"type":"line","color":"#8CC63F","strokeWidth":1.5},"encoding":{"y":{"field":"n","type":"quantitative","title":"Biomass all (t)"}}},
  {"data":{"name":"model"},"transform":[{"filter":"datum.p == 'A'"}],"mark":{"type":"line","color":"#FFA500","strokeWidth":1.7},"encoding":{"y":{"field":"o","type":"quantitative","title":"Biomass all (t)"}}},
  {"data":{"name":"obs"},"mark":{"type":"errorband","band":{"opacity":0.45}},"encoding":{"y":{"field":"m","type":"quantitative","title":"Biomass all (t)"},"yError":{"field":"sd"},"color":{"datum":"Observations","type":"nominal"}}},
  {"data":{"name":"obs"},"mark":{"type":"line","color":"#9C6A14","strokeWidth":1.5},"encoding":{"y":{"field":"m","type":"quantitative","title":"Biomass all (t)"}}}
 ]
},
{
 "width":1202,"height":259,
 "title":{"text":"B","anchor":"start","frame":"bounds","fontSize":20,"fontWeight":"bold","color":"#000000","offset":-16,"font":"Liberation Sans","dx":-4},
 "encoding":{"x":{"field":"t","type":"quantitative","title":"Time (year)","scale":{"domain":[1977.7,2072.3],"nice":false,"zero":false},"axis":{"values":[1987.5,2000,2012.5,2025,2037.5,2050,2062.5],"labelExpr":"datum.value % 25 == 0 ? format(datum.value, 'd') : ''","gridWidth":{"condition":{"test":"datum.value % 25 == 0","value":1.6},"value":0.8},"tickOpacity":{"condition":{"test":"datum.value % 25 == 0","value":1},"value":0}}}},
 "layer":[
  {"data":{"name":"model"},"transform":[{"filter":"datum.p == 'B'"}],"mark":{"type":"errorband","band":{"opacity":0.5}},"encoding":{"y":{"field":"g","type":"quantitative","title":"Biomass all (t)","scale":{"domain":[4800000,30600000],"nice":false,"zero":false},"axis":{"values":[5000000,7500000,10000000,12500000,15000000,17500000,20000000,22500000,25000000,27500000,30000000],"labelExpr":"datum.value % 5000000 == 0 ? replace(format(datum.value, '.1e'), 'e+', 'e+0') : ''","gridWidth":{"condition":{"test":"datum.value % 5000000 == 0","value":1.6},"value":0.8},"tickOpacity":{"condition":{"test":"datum.value % 5000000 == 0","value":1},"value":0}}},"yError":{"field":"gs"},"color":{"datum":"0.6 x fmsy","type":"nominal","scale":{"domain":["0.6 x fmsy","0.8 x fmsy","1.0 x fmsy","1.1 x fmsy","Observations"],"range":["#B3B3B3","#A6D15F","#5B9BD0","#FFA91A","#A67C2E"]},"legend":{"orient":"none","legendX":1010,"legendY":13,"title":null,"symbolType":"square","symbolSize":256,"symbolOpacity":1,"symbolStrokeWidth":0,"labelFontSize":16,"labelColor":"#000000","labelFont":"Liberation Sans","fillColor":"#FFFFFF","padding":9,"rowPadding":0.4,"labelOffset":2,"encode":{"symbols":{"update":{"opacity":{"value":1},"fillOpacity":{"value":1}}}}}}}},
  {"data":{"name":"model"},"transform":[{"filter":"datum.p == 'B'"}],"mark":{"type":"errorband","band":{"opacity":0.5}},"encoding":{"y":{"field":"n","type":"quantitative","title":"Biomass all (t)"},"yError":{"field":"ns"},"color":{"datum":"0.8 x fmsy","type":"nominal"}}},
  {"data":{"name":"model"},"transform":[{"filter":"datum.p == 'B'"}],"mark":{"type":"errorband","band":{"opacity":0.5}},"encoding":{"y":{"field":"b","type":"quantitative","title":"Biomass all (t)"},"yError":{"field":"bs"},"color":{"datum":"1.0 x fmsy","type":"nominal"}}},
  {"data":{"name":"model"},"transform":[{"filter":"datum.p == 'B'"}],"mark":{"type":"line","color":"#4A8CC8","strokeWidth":1.5},"encoding":{"y":{"field":"b","type":"quantitative","title":"Biomass all (t)"}}},
  {"data":{"name":"model"},"transform":[{"filter":"datum.p == 'B'"}],"mark":{"type":"errorband","band":{"opacity":0.5}},"encoding":{"y":{"field":"o","type":"quantitative","title":"Biomass all (t)"},"yError":{"field":"os"},"color":{"datum":"1.1 x fmsy","type":"nominal"}}},
  {"data":{"name":"model"},"transform":[{"filter":"datum.p == 'B'"}],"mark":{"type":"line","color":"#A6A6A6","strokeWidth":1.5},"encoding":{"y":{"field":"g","type":"quantitative","title":"Biomass all (t)"}}},
  {"data":{"name":"model"},"transform":[{"filter":"datum.p == 'B'"}],"mark":{"type":"line","color":"#8CC63F","strokeWidth":1.5},"encoding":{"y":{"field":"n","type":"quantitative","title":"Biomass all (t)"}}},
  {"data":{"name":"model"},"transform":[{"filter":"datum.p == 'B'"}],"mark":{"type":"line","color":"#FFA500","strokeWidth":1.7},"encoding":{"y":{"field":"o","type":"quantitative","title":"Biomass all (t)"}}},
  {"data":{"name":"obs"},"mark":{"type":"errorband","band":{"opacity":0.45}},"encoding":{"y":{"field":"m","type":"quantitative","title":"Biomass all (t)"},"yError":{"field":"sd"},"color":{"datum":"Observations","type":"nominal"}}},
  {"data":{"name":"obs"},"mark":{"type":"line","color":"#9C6A14","strokeWidth":1.5},"encoding":{"y":{"field":"m","type":"quantitative","title":"Biomass all (t)"}}}
 ]
},
{
 "width":1,"height":152,
 "view":{"fill":"#FFFFFF","stroke":null},
 "data":{"name":"cap"},
 "encoding":{"y":{"field":"line","type":"ordinal","axis":null,"scale":{"type":"point","padding":1}},"text":{"field":"text"}},
 "layer":[
  {"transform":[{"filter":"datum.part == 'h'"}],"mark":{"type":"text","align":"left","baseline":"middle","font":"Liberation Sans","fontSize":18.2,"fontWeight":"bold","color":"#231F20","dx":-105}},
  {"transform":[{"filter":"datum.part == 'b1'"}],"mark":{"type":"text","align":"left","baseline":"middle","font":"Liberation Sans","fontSize":18.2,"color":"#231F20","dx":6}},
  {"transform":[{"filter":"datum.part == 'b'"}],"mark":{"type":"text","align":"left","baseline":"middle","font":"Liberation Sans","fontSize":18.2,"color":"#231F20","dx":-105}}
 ]
}
]
}
